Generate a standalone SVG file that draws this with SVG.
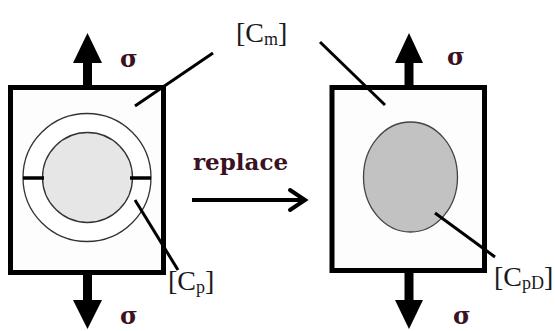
<svg xmlns="http://www.w3.org/2000/svg" width="555" height="331" viewBox="0 0 555 331">
<style>
.box{fill:#fdfdfd;stroke:#000;stroke-width:5}
.thick{stroke:#000;stroke-width:9;fill:none}
.head{fill:#000}
.lead{stroke:#000;stroke-width:3;fill:none}
.sig{font-family:"DejaVu Serif",serif;font-weight:bold;font-size:24px;fill:#3a1222}
.lab{font-family:"Liberation Serif","Times New Roman",serif;font-size:28px;fill:#1a1a1a}
.sub{font-size:18px}
.rep{font-family:"DejaVu Serif",serif;font-weight:bold;font-size:23px;fill:#3a1222}
</style>
<rect width="555" height="331" fill="#fff"/>
<g id="left-element">
  <line class="thick" x1="87.5" y1="90" x2="87.5" y2="60"/>
  <polygon class="head" points="73,63 102,63 87.5,33"/>
  <line class="thick" x1="87.5" y1="270" x2="87.5" y2="303"/>
  <polygon class="head" points="73,300 102,300 87.5,329"/>
  <rect class="box" x="10.5" y="87.5" width="153" height="185"/>
  <circle cx="87" cy="177.5" r="64" fill="#fff" stroke="#333" stroke-width="1.3"/>
  <circle cx="87.5" cy="177.5" r="45" fill="#e6e6e6" stroke="#333" stroke-width="1.3"/>
  <line x1="23" y1="178" x2="44" y2="178" stroke="#000" stroke-width="3.5"/>
  <line x1="130" y1="178" x2="151" y2="178" stroke="#000" stroke-width="3.5"/>
  <text class="sig" x="120" y="67">σ</text>
  <text class="sig" x="120" y="324">σ</text>
</g>
<g id="right-element">
  <line class="thick" x1="409" y1="90" x2="409" y2="60"/>
  <polygon class="head" points="395,63 423,63 409,33"/>
  <line class="thick" x1="409" y1="270" x2="409" y2="303"/>
  <polygon class="head" points="395,300 423,300 409,329"/>
  <rect class="box" x="332" y="87.5" width="152.5" height="183"/>
  <ellipse cx="410.5" cy="177" rx="47" ry="55" fill="#c2c2c2" stroke="#444" stroke-width="1.3"/>
  <text class="sig" x="447" y="65">σ</text>
  <text class="sig" x="453" y="324">σ</text>
</g>
<g id="labels">
  <text class="lab" x="236" y="42">[C<tspan class="sub" dy="3">m</tspan><tspan dy="-3">]</tspan></text>
  <text class="lab" x="168" y="290">[C<tspan class="sub" dy="3">p</tspan><tspan dy="-3">]</tspan></text>
  <text class="lab" x="494" y="286">[C<tspan class="sub" dy="3">pD</tspan><tspan dy="-3">]</tspan></text>
</g>
<g id="replace">
  <text class="rep" x="193" y="170">replace</text>
</g>
<g id="connectors">
  <line class="lead" x1="213" y1="53" x2="135" y2="106"/>
  <line class="lead" x1="320" y1="42" x2="385" y2="105"/>
  <line class="lead" x1="135" y1="200" x2="178" y2="270"/>
  <line class="lead" x1="435" y1="213" x2="495" y2="257"/>
  <line x1="192" y1="200" x2="303" y2="200" stroke="#000" stroke-width="4"/>
  <polyline points="290,190 305,200 290,210" fill="none" stroke="#000" stroke-width="4" stroke-linecap="round" stroke-linejoin="miter"/>
</g>
</svg>
